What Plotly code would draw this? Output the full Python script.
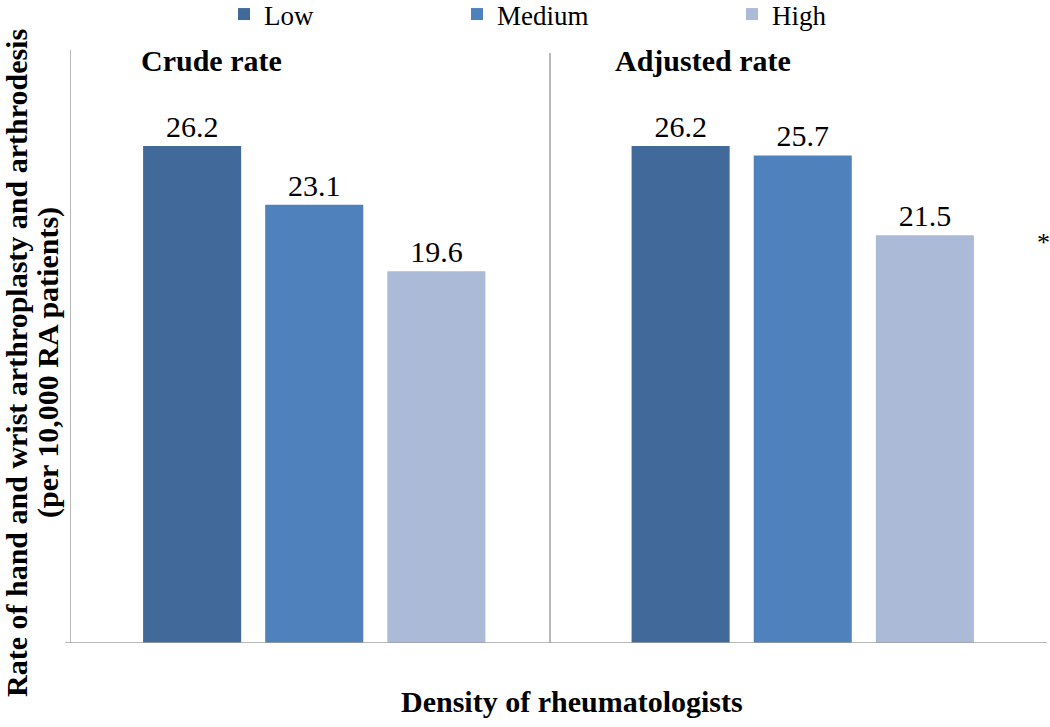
import plotly.graph_objects as go

# ---- data ----
groups = ["Crude rate", "Adjusted rate"]
levels = ["Low", "Medium", "High"]
low_vals = [26.2, 26.2]
medium_vals = [23.1, 25.7]
high_vals = [19.6, 21.5]
series = [low_vals, medium_vals, high_vals]
y_title_line1 = "Rate of hand and wrist arthroplasty and arthrodesis"
y_title_line2 = "(per 10,000 RA patients)"
x_title = "Density of rheumatologists"

colors = ["#416A9B", "#4F81BD", "#AABAD7"]
legend_ids = ["legend", "legend2", "legend3"]
FONT = "Liberation Serif"
REG = "serif"

fig = go.Figure()
for name, vals, col, lg in zip(levels, series, colors, legend_ids):
    fig.add_trace(go.Bar(
        x=groups, y=vals, name=name, legend=lg,
        marker=dict(color=col, line=dict(width=0)),
        text=[f"{v:.1f}" for v in vals], textposition="outside",
        textfont=dict(family=REG, size=30, color="black"),
        outsidetextfont=dict(family=REG, size=30, color="black"),
        cliponaxis=False,
    ))

W, H = 1050, 727
L, R, T, B = 70, 3, 50, 84


def px(x):
    return (x - L) / (W - L - R)


def py(y):
    return (H - B - y) / (H - T - B)


legend_common = dict(orientation="h", xref="paper", yref="paper",
                     yanchor="top", xanchor="left", bgcolor="rgba(0,0,0,0)",
                     font=dict(family=REG, size=27, color="black"))

fig.update_layout(
    width=W, height=H,
    margin=dict(l=L, r=R, t=T, b=B, autoexpand=False),
    plot_bgcolor="white", paper_bgcolor="white",
    barmode="group", bargap=0.25, bargroupgap=0.197,
    font=dict(family=REG, color="black"),
    showlegend=True,
    legend=dict(x=px(224), y=py(-10), **legend_common),
    legend2=dict(x=px(457), y=py(-10), **legend_common),
    legend3=dict(x=px(732), y=py(-10), **legend_common),
    xaxis=dict(range=[-0.5, 1.5], showticklabels=False, ticks="",
               showline=False, showgrid=False, zeroline=False),
    yaxis=dict(range=[0, 31.26], showticklabels=False, ticks="",
               showline=False, showgrid=False, zeroline=False),
)

line_col = "#A0A0A0"
fig.add_shape(type="line", xref="paper", yref="y", x0=px(65), x1=1.0, y0=0, y1=0,
              line=dict(color=line_col, width=1.5))
fig.add_shape(type="line", xref="x", yref="paper", x0=-0.5, x1=-0.5, y0=0, y1=1,
              line=dict(color=line_col, width=1.5))
fig.add_shape(type="line", xref="paper", yref="paper", x0=px(550), x1=px(550),
              y0=0, y1=py(53), line=dict(color=line_col, width=1.5))

ann = []
ann.append(dict(text="<b>Crude rate</b>", xref="paper", yref="paper",
                x=px(139), y=py(60), xanchor="left", yanchor="middle",
                showarrow=False, font=dict(family=FONT, size=30)))
ann.append(dict(text="<b>Adjusted rate</b>", xref="paper", yref="paper",
                x=px(613), y=py(60), xanchor="left", yanchor="middle",
                showarrow=False, font=dict(family=FONT, size=30)))
ann.append(dict(text="*", xref="paper", yref="paper",
                x=px(1043), y=py(243), xanchor="center", yanchor="middle",
                showarrow=False, font=dict(family=REG, size=26)))
ann.append(dict(text=f"<b>{x_title}</b>", xref="paper", yref="paper",
                x=px(572), y=py(701), xanchor="center", yanchor="middle",
                showarrow=False, font=dict(family=FONT, size=30)))
ann.append(dict(text=f"<b>{y_title_line1}</b>", xref="paper", yref="paper",
                x=px(16), y=py(363), xanchor="center", yanchor="middle",
                textangle=-90, showarrow=False, font=dict(family=FONT, size=30)))
ann.append(dict(text=f"<b>{y_title_line2}</b>", xref="paper", yref="paper",
                x=px(48), y=py(363), xanchor="center", yanchor="middle",
                textangle=-90, showarrow=False, font=dict(family=FONT, size=30)))
fig.update_layout(annotations=ann)

fig.write_html("out.html", config={"displayModeBar": False},
               post_script="document.body.style.margin='0';document.body.style.overflow='hidden';")
